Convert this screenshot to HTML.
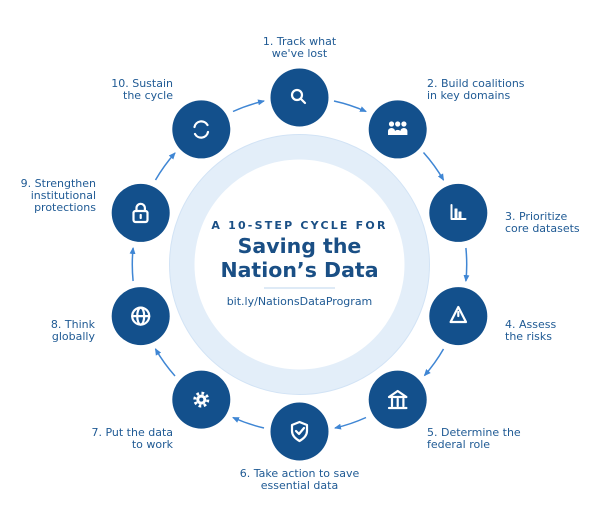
<!DOCTYPE html>
<html><head><meta charset="utf-8"><style>
html,body{margin:0;padding:0;background:#fff;}
svg{display:block;font-family:"DejaVu Sans","Liberation Sans",sans-serif;}
.l{font-size:11px;fill:#1f5a94;}
</style></head><body>
<svg width="600" height="529" viewBox="0 0 600 529">
<defs>
<marker id="a" markerWidth="8" markerHeight="8" refX="6" refY="4" orient="auto" markerUnits="userSpaceOnUse">
<path d="M0,1 L7,4 L0,7 z" fill="#3f86d4"/></marker>
</defs>
<circle cx="299.5" cy="264.5" r="117.5" fill="none" stroke="#e3eef9" stroke-width="25"/>
<circle cx="299.5" cy="264.5" r="130" fill="none" stroke="#d2e3f5" stroke-width="1"/>
<g fill="none" stroke="#3f86d4" stroke-width="1.5" marker-end="url(#a)">
<path d="M334,101 A167,167 0 0 1 366,111.5"/>
<path d="M423.5,152.5 A167,167 0 0 1 443.5,180"/>
<path d="M465.9,248 A167,167 0 0 1 465.9,281"/>
<path d="M443.5,349 A167,167 0 0 1 424.5,375.5"/>
<path d="M366,417.5 A167,167 0 0 1 335,428"/>
<path d="M264,428 A167,167 0 0 1 233,417.5"/>
<path d="M175,376 A167,167 0 0 1 155.5,349"/>
<path d="M133.1,281 A167,167 0 0 1 133.1,248"/>
<path d="M155.5,180 A167,167 0 0 1 175,153"/>
<path d="M233,111.5 A167,167 0 0 1 264,101"/>
</g>
<g fill="#13508c">
<circle cx="299.5" cy="97.5" r="29"/>
<circle cx="397.7" cy="129.4" r="29"/>
<circle cx="458.3" cy="212.9" r="29"/>
<circle cx="458.3" cy="316.1" r="29"/>
<circle cx="397.7" cy="399.6" r="29"/>
<circle cx="299.5" cy="431.5" r="29"/>
<circle cx="201.3" cy="399.6" r="29"/>
<circle cx="140.7" cy="316.1" r="29"/>
<circle cx="140.7" cy="212.9" r="29"/>
<circle cx="201.3" cy="129.4" r="29"/>
</g>
<g fill="none" stroke="#fff" stroke-width="2.2" stroke-linecap="round" stroke-linejoin="round">
<circle cx="297" cy="95" r="5"/><line x1="301" y1="99" x2="305" y2="103"/>
<path d="M451.5,205 v14 h14" stroke-width="2"/>
<rect x="455" y="209" width="2" height="9" fill="#fff" stroke-width="1"/><rect x="459" y="212" width="2" height="6" fill="#fff" stroke-width="1"/>
<path d="M458.3,307 L466,322 L450.6,322 z"/><line x1="458.3" y1="312" x2="458.3" y2="316"/>
<path d="M389,397 L397.7,391 L406.4,397 z M389,408 h17.4 M392,399 v7 M397.7,399 v7 M403.4,399 v7"/>
<path d="M299.5,422 L307,425 v6 c0,5 -4,8 -7.5,10 c-3.5,-2 -7.5,-5 -7.5,-10 v-6 z M296,431 l3,3 l5,-6"/>
<circle cx="201.3" cy="399.6" r="6.5" stroke-width="3" stroke-linecap="butt" stroke-dasharray="2.6 2.5"/>
<circle cx="140.7" cy="316.1" r="8.5"/><ellipse cx="140.7" cy="316.1" rx="3.5" ry="8.5"/><line x1="132.2" y1="316.1" x2="149.2" y2="316.1"/>
<rect x="133.5" y="211" width="14" height="11" rx="2"/><path d="M136.5,211 v-3 a4.2,4.2 0 0 1 8.4,0 v3"/><line x1="140.7" y1="215" x2="140.7" y2="218"/>
<path d="M194.5,127 a7,7 0 0 1 13,-2 M208,132 a7,7 0 0 1 -13,2"/>
</g>
<g fill="#fff">
<circle cx="391.5" cy="124" r="2.6"/><circle cx="397.7" cy="124" r="2.6"/><circle cx="403.9" cy="124" r="2.6"/>
<path d="M388,135 v-4 a3.5,3 0 0 1 7,0 a3.5,3 0 0 1 5.4,0 a3.5,3 0 0 1 7,0 v4 z"/>
<circle cx="201.3" cy="399.6" r="5"/>
</g>
<circle cx="201.3" cy="399.6" r="2" fill="#13508c"/>
<g text-anchor="middle" fill="#1a4f85" font-weight="bold">
<text x="299.5" y="229" font-size="11" letter-spacing="2.2">A 10-STEP CYCLE FOR</text>
<text x="299.5" y="253" font-size="20.5">Saving the</text>
<text x="299.5" y="277" font-size="20.5">Nation’s Data</text>
</g>
<line x1="264" y1="288" x2="335" y2="288" stroke="#bcd5ee" stroke-width="1"/>
<text x="299.5" y="305" font-size="11" fill="#1f5a94" text-anchor="middle">bit.ly/NationsDataProgram</text>
<g class="l">
<text x="299.5" y="45" text-anchor="middle">1. Track what</text>
<text x="299.5" y="57" text-anchor="middle">we've lost</text>
<text x="427" y="87">2. Build coalitions</text>
<text x="427" y="99">in key domains</text>
<text x="505" y="220">3. Prioritize</text>
<text x="505" y="232">core datasets</text>
<text x="505" y="328">4. Assess</text>
<text x="505" y="340">the risks</text>
<text x="427" y="436">5. Determine the</text>
<text x="427" y="448">federal role</text>
<text x="299.5" y="477" text-anchor="middle">6. Take action to save</text>
<text x="299.5" y="489" text-anchor="middle">essential data</text>
<text x="173" y="436" text-anchor="end">7. Put the data</text>
<text x="173" y="448" text-anchor="end">to work</text>
<text x="95" y="328" text-anchor="end">8. Think</text>
<text x="95" y="340" text-anchor="end">globally</text>
<text x="96" y="187" text-anchor="end">9. Strengthen</text>
<text x="96" y="199" text-anchor="end">institutional</text>
<text x="96" y="211" text-anchor="end">protections</text>
<text x="173" y="87" text-anchor="end">10. Sustain</text>
<text x="173" y="99" text-anchor="end">the cycle</text>
</g>
</svg>
</body></html>
